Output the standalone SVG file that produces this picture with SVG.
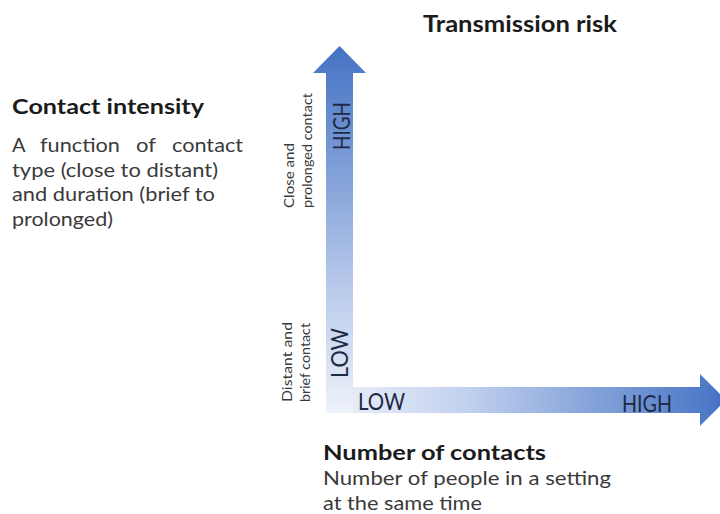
<svg xmlns="http://www.w3.org/2000/svg" width="720" height="514" viewBox="0 0 720 514">
  <style>
    .h { font-family: Lato, "Open Sans", "Liberation Sans", sans-serif; font-weight: 700; fill: #1b1b1b; }
    .b { font-family: Lato, "Open Sans", "Liberation Sans", sans-serif; font-weight: 400; fill: #3a3a3a; font-size: 20px; }
    .s { font-family: Lato, "Open Sans", "Liberation Sans", sans-serif; font-weight: 400; fill: #3a3a3a; font-size: 13.5px; }
    .lv { font-family: Lato, "Open Sans", "Liberation Sans", sans-serif; font-weight: 400; fill: #1e2a45; font-size: 23px; }
  </style>
  <defs>
    <linearGradient id="gv" x1="0" y1="413" x2="0" y2="46" gradientUnits="userSpaceOnUse">
      <stop offset="0" stop-color="#eef2fa"/>
      <stop offset="0.35" stop-color="#b7c9ea"/>
      <stop offset="1" stop-color="#4472c4"/>
    </linearGradient>
    <linearGradient id="gh" x1="326" y1="0" x2="726" y2="0" gradientUnits="userSpaceOnUse">
      <stop offset="0" stop-color="#eef2fa"/>
      <stop offset="0.35" stop-color="#c2d1ee"/>
      <stop offset="1" stop-color="#4472c4"/>
    </linearGradient>
  </defs>

  <g id="title">
    <text class="h" x="423" y="32" font-size="22" textLength="194" lengthAdjust="spacingAndGlyphs">Transmission risk</text>
  </g>

  <g id="connectors">
    <path id="axis-x" d="M326,387 L700,387 L700,374 L726,400 L700,426 L700,413 L326,413 Z" fill="url(#gh)"/>
    <path id="axis-y" d="M326,413 L326,73 L313,73 L339.5,46 L366,73 L353,73 L353,413 Z" fill="url(#gv)"/>
  </g>

  <g id="contact-intensity">
    <text class="h" x="12" y="114" font-size="20" textLength="192" lengthAdjust="spacingAndGlyphs">Contact intensity</text>
    <text class="b" y="152"><tspan x="12">A</tspan><tspan x="40" textLength="80" lengthAdjust="spacingAndGlyphs">function</tspan><tspan x="136" textLength="20" lengthAdjust="spacingAndGlyphs">of</tspan><tspan x="172" textLength="71" lengthAdjust="spacingAndGlyphs">contact</tspan></text>
    <text class="b" x="12" y="177" textLength="206" lengthAdjust="spacingAndGlyphs">type (close to distant)</text>
    <text class="b" x="12" y="201" textLength="203" lengthAdjust="spacingAndGlyphs">and duration (brief to</text>
    <text class="b" x="12" y="226" textLength="101" lengthAdjust="spacingAndGlyphs">prolonged)</text>
  </g>

  <g id="y-labels">
    <text class="s" transform="translate(294,208) rotate(-90)" textLength="65" lengthAdjust="spacingAndGlyphs">Close and</text>
    <text class="s" transform="translate(312,208) rotate(-90)" textLength="115" lengthAdjust="spacingAndGlyphs">prolonged contact</text>
    <text class="s" transform="translate(292,402) rotate(-90)" textLength="80" lengthAdjust="spacingAndGlyphs">Distant and</text>
    <text class="s" transform="translate(310,402) rotate(-90)" textLength="79" lengthAdjust="spacingAndGlyphs">brief contact</text>
    <text class="lv" transform="translate(350,150) rotate(-90)" textLength="48" lengthAdjust="spacingAndGlyphs">HIGH</text>
    <text class="lv" transform="translate(348,378) rotate(-90)" textLength="50" lengthAdjust="spacingAndGlyphs">LOW</text>
  </g>

  <g id="x-labels">
    <text class="lv" x="358" y="410" textLength="47" lengthAdjust="spacingAndGlyphs">LOW</text>
    <text class="lv" x="622" y="412" textLength="50" lengthAdjust="spacingAndGlyphs">HIGH</text>
  </g>

  <g id="number-of-contacts">
    <text class="h" x="323" y="460" font-size="20" textLength="223" lengthAdjust="spacingAndGlyphs">Number of contacts</text>
    <text class="b" x="323" y="485" textLength="288" lengthAdjust="spacingAndGlyphs">Number of people in a setting</text>
    <text class="b" x="323" y="510" textLength="159" lengthAdjust="spacingAndGlyphs">at the same time</text>
  </g>
</svg>
